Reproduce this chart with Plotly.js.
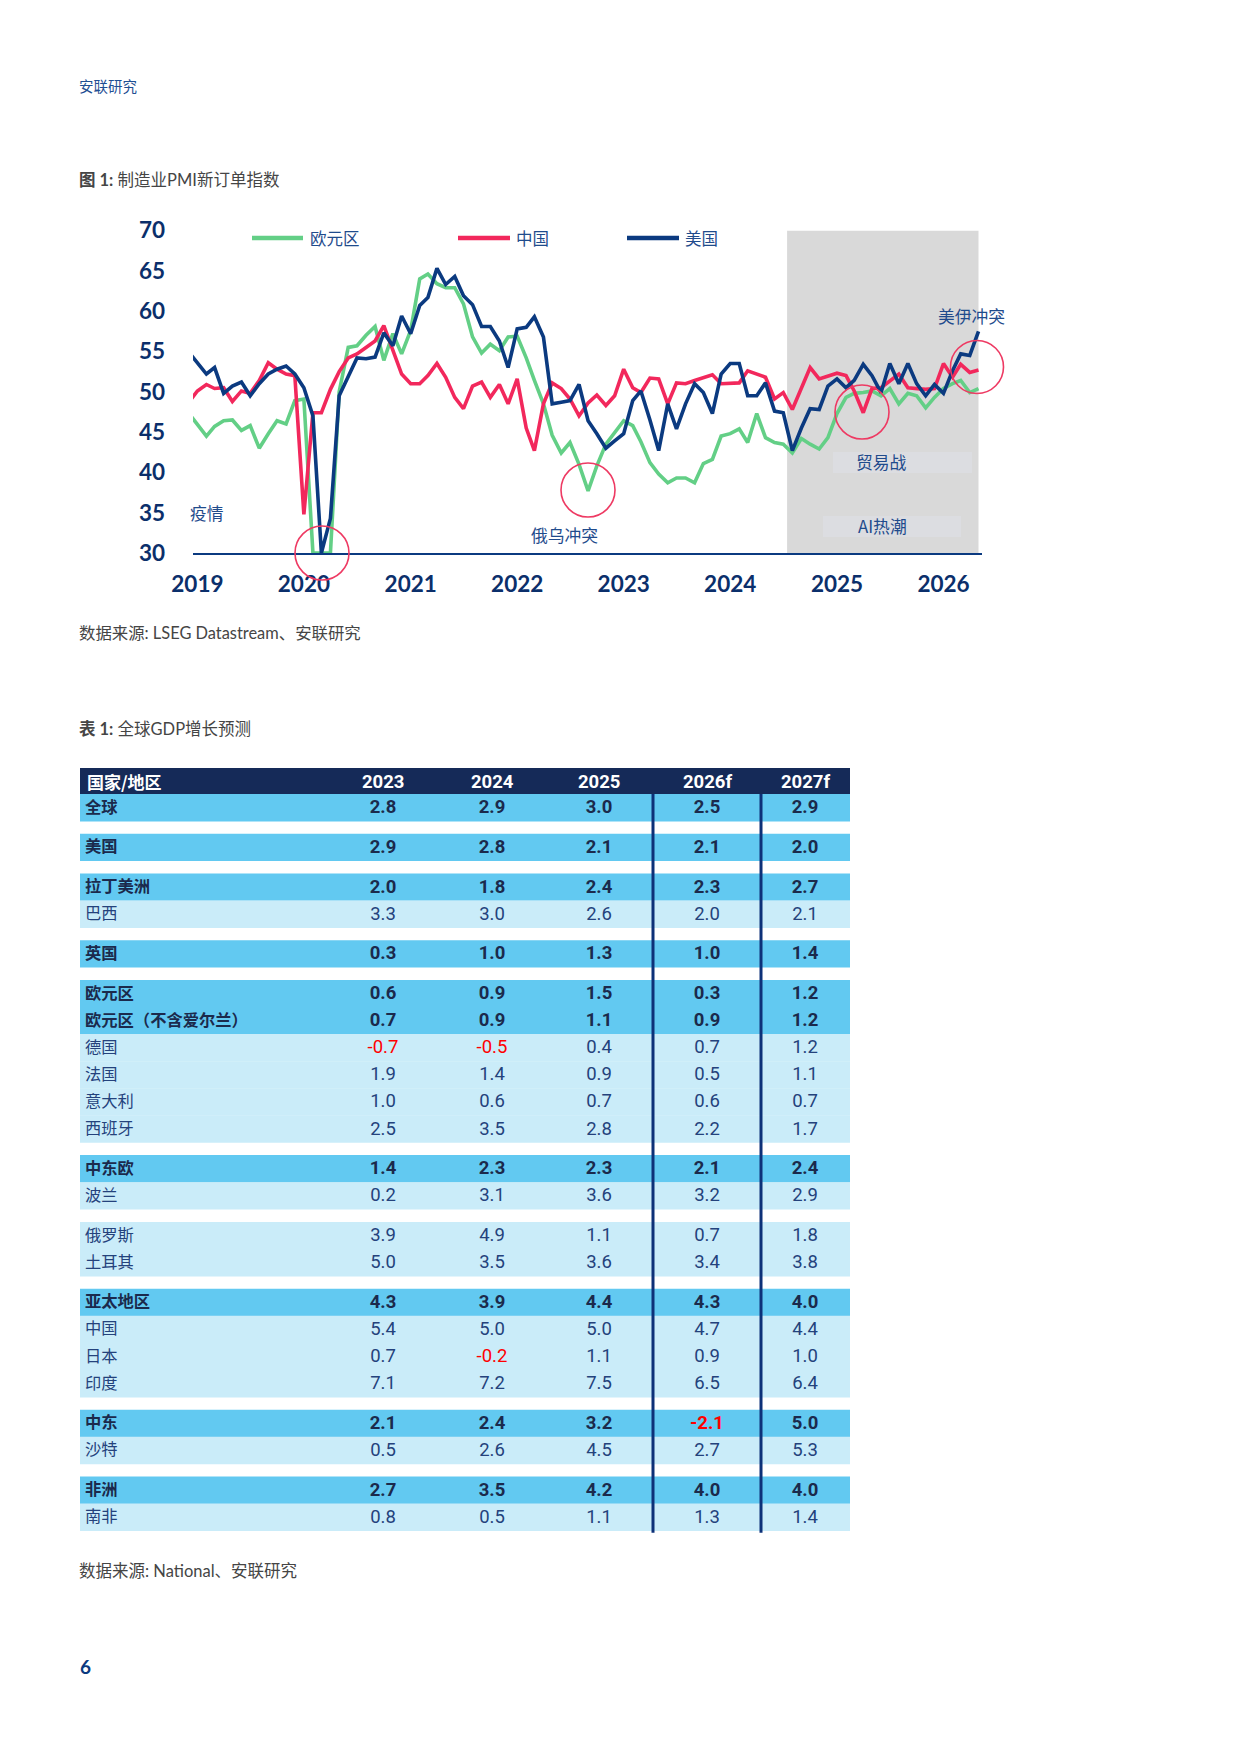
<!DOCTYPE html>
<html><head><meta charset="utf-8">
<script src="https://cdn.plot.ly/plotly-3.0.1.min.js"></script>
<style>html,body{margin:0;padding:0;background:#fff;}#page{width:1240px;height:1753px;}</style>
</head><body><div id="page"></div>
<script>
// ---------------- chart data (monthly, Dec 2018 – May 2026) ----------------
const firstMonth = [2018, 12];
const monthCount = 90;
const eurozone = [47.4,
 46.0,44.5,45.7,46.4,46.5,45.2,45.8,43.0,44.8,46.4,46.0,48.9,
 49.1,30.0,30.0,30.0,50.0,55.5,55.7,57.0,58.1,53.9,57.2,54.7,
 57.6,64.0,64.6,63.4,62.9,62.9,60.9,56.8,54.8,55.9,55.1,56.8,
 56.9,54.2,51.4,48.5,44.6,42.4,43.7,41.0,37.7,40.8,43.5,45.0,
 46.4,45.8,43.8,41.2,39.8,38.7,39.3,39.3,38.7,41.1,41.6,44.5,
 44.8,45.4,43.7,47.3,44.3,43.7,43.5,42.4,44.2,43.5,42.9,44.3,
 47.3,49.3,49.8,49.9,50.1,49.5,50.4,48.5,49.8,49.5,48.0,49.3,
 50.4,51.0,51.4,49.9,50.4];
const china = [48.6,
 50.1,50.9,50.4,50.5,48.8,50.1,49.8,51.4,53.6,52.8,52.2,52.0,
 34.8,47.4,47.4,50.3,52.5,54.2,54.7,55.5,56.3,58.2,55.3,52.2,
 51.0,51.0,52.0,53.5,51.8,49.3,47.9,50.7,51.2,49.3,50.9,48.5,
 51.6,45.5,42.7,48.5,51.1,50.4,49.1,47.0,48.6,49.6,48.3,49.5,
 52.8,50.5,49.9,51.7,51.6,48.5,51.1,51.0,51.4,51.8,52.1,51.0,
 51.1,51.1,52.6,52.2,51.8,49.1,49.9,47.8,50.5,53.0,51.6,52.0,
 52.3,52.0,50.1,47.4,50.4,50.5,51.4,52.2,50.5,50.4,50.3,50.4,
 53.5,51.8,53.4,52.4,52.7];
const usa = [55.0,
 53.6,52.2,53.0,49.8,50.7,51.2,49.5,51.0,52.2,52.8,53.2,52.2,
 50.5,47.0,30.0,34.3,49.5,51.8,54.2,54.1,54.3,57.3,55.7,59.4,
 57.2,60.7,61.7,65.3,63.3,64.3,61.9,60.8,58.1,58.1,56.3,53.0,
 57.8,58.0,59.3,56.8,48.5,48.7,48.9,50.9,46.4,44.8,43.0,43.9,
 44.8,48.9,50.1,46.5,42.7,48.5,45.4,48.5,51.0,49.9,47.3,52.2,
 53.5,53.5,49.5,49.5,51.1,47.6,47.4,42.7,45.5,47.9,47.8,50.7,
 51.6,50.5,51.4,53.4,52.0,49.9,53.5,51.0,53.5,51.0,49.5,50.9,
 49.8,52.6,54.7,54.5,57.5];
const seriesNames = ['欧元区','中国','美国'];
const yTicks = [30,35,40,45,50,55,60,65,70];

// ---------------- table data ----------------
const colHeaders = ['2023','2024','2025','2026f','2027f'];
const rowLabels = ['全球','美国','拉丁美洲','巴西','英国','欧元区','欧元区（不含爱尔兰）','德国','法国','意大利','西班牙','中东欧','波兰','俄罗斯','土耳其','亚太地区','中国','日本','印度','中东','沙特','非洲','南非'];
const rowBold   = [1,1,1,0,1,1,1,0,0,0,0,1,0,0,0,1,0,0,0,1,0,1,0];
const gapAfter  = [0,1,3,4,10,12,14,18,20];
const g2023  = [2.8,2.9,2.0,3.3,0.3,0.6,0.7,-0.7,1.9,1.0,2.5,1.4,0.2,3.9,5.0,4.3,5.4,0.7,7.1,2.1,0.5,2.7,0.8];
const g2024  = [2.9,2.8,1.8,3.0,1.0,0.9,0.9,-0.5,1.4,0.6,3.5,2.3,3.1,4.9,3.5,3.9,5.0,-0.2,7.2,2.4,2.6,3.5,0.5];
const g2025  = [3.0,2.1,2.4,2.6,1.3,1.5,1.1,0.4,0.9,0.7,2.8,2.3,3.6,1.1,3.6,4.4,5.0,1.1,7.5,3.2,4.5,4.2,1.1];
const g2026f = [2.5,2.1,2.3,2.0,1.0,0.3,0.9,0.7,0.5,0.6,2.2,2.1,3.2,0.7,3.4,4.3,4.7,0.9,6.5,-2.1,2.7,4.0,1.3];
const g2027f = [2.9,2.0,2.7,2.1,1.4,1.2,1.2,1.2,1.1,0.7,1.7,2.4,2.9,1.8,3.8,4.0,4.4,1.0,6.4,5.0,5.3,4.0,1.4];
const tableCols = [g2023,g2024,g2025,g2026f,g2027f];

// ---------------- layout constants ----------------
const W = 1240, H = 1753;
const NAVY = '#0b3a80', RED = '#f2285c', GREEN = '#63cf86';
const TXT = '#1f4b8c';
const CJK = 'Noto Sans CJK SC';
const NUM = 'Lato, Noto Sans CJK SC';
const TNUM = 'Liberation Sans Narrow, Roboto, Noto Sans CJK SC';

const months = [];
for (let i = 0; i < monthCount; i++) {
  const d = new Date(Date.UTC(firstMonth[0], firstMonth[1]-1+i, 1));
  months.push(d.toISOString().slice(0,10));
}

// chart plot-area in page pixels
const cL = 193, cR = 982, cT = 230.5, cB = 553;

const traces = [];
const cols = [GREEN, RED, NAVY];
[eurozone, china, usa].forEach((s, k) => {
  traces.push({x: months, y: s, type: 'scatter', mode: 'lines', name: seriesNames[k],
    line: {color: cols[k], width: 3.6, shape: 'linear'}, showlegend: false,
    xaxis: 'x', yaxis: 'y', hoverinfo: 'skip'});
});

// table geometry
const tX0 = 80, tX1 = 850, hdrTop = 768, hdrBot = 794, rowH = 27.1, gapH = 12.6;
const colX = [383, 492, 599, 707, 805];
const rowTop = [];
{ let y = hdrBot; for (let i = 0; i < rowLabels.length; i++) { rowTop.push(y); y += rowH; if (gapAfter.includes(i)) y += gapH; } }
const rowMid = rowTop.map(t => t + rowH/2 + 1);
const tableBottom = rowTop[rowTop.length-1] + rowH;

const shapes = [];
shapes.push({type:'rect', xref:'x', yref:'y', x0:'2024-07-14', x1:'2026-05-01', y0:30, y1:70,
  fillcolor:'#d9d9d9', line:{width:0}, layer:'below'});
shapes.push({type:'rect', xref:'x2', yref:'y2', x0:833, x1:972, y0:452, y1:473, fillcolor:'#dcdde1', line:{width:0}, layer:'below'});
shapes.push({type:'rect', xref:'x2', yref:'y2', x0:823, x1:961, y0:516, y1:537, fillcolor:'#dcdde1', line:{width:0}, layer:'below'});

shapes.push({type:'rect', xref:'x2', yref:'y2', x0:tX0, x1:tX1, y0:hdrTop, y1:hdrBot, fillcolor:'#152a58', line:{width:0}, layer:'below'});
rowLabels.forEach((_, i) => {
  shapes.push({type:'rect', xref:'x2', yref:'y2', x0:tX0, x1:tX1, y0:rowTop[i], y1:rowTop[i]+rowH+0.3,
    fillcolor: rowBold[i] ? '#62c9f1' : '#caecf9', line:{width:0}, layer:'below'});
});
[653, 761].forEach(x => shapes.push({type:'line', xref:'x2', yref:'y2', x0:x, x1:x, y0:hdrBot, y1:tableBottom+2,
  line:{color:'#0d3178', width:3}}));

[[322,553,27],[588,490,27],[862,412,27],[977,367,26.5]].forEach(c => shapes.push({type:'circle', xref:'x2', yref:'y2',
  x0:c[0]-c[2], x1:c[0]+c[2], y0:c[1]-c[2], y1:c[1]+c[2], line:{color:'#ee3a63', width:1.6}, layer:'above'}));

const legend = [[252,303,308],[458,510,514],[627,679,683]];
legend.forEach((l, k) => shapes.push({type:'line', xref:'x2', yref:'y2', x0:l[0], x1:l[1], y0:238, y1:238,
  line:{color:cols[k], width:4.5}}));

const ann = [];
function txt(x, y, text, opt) {
  ann.push(Object.assign({xref:'x2', yref:'y2', x:x, y:y, text:text, showarrow:false, xanchor:'left', yanchor:'middle',
    font:{family:CJK, size:16.8, color:TXT}}, opt || {}));
}
legend.forEach((l, k) => txt(l[2], 238, seriesNames[k], {font:{family:CJK, size:16.5, color:TXT}}));
txt(77, 85, '安联研究', {font:{family:CJK, size:14.5, color:'#1f4f93'}});
txt(77, 180, '<b>图 1:</b> 制造业PMI新订单指数', {font:{family:NUM, size:16.5, color:'#454545'}});
txt(77, 632, '数据来源: LSEG Datastream、安联研究', {font:{family:NUM, size:16.4, color:'#454545'}});
txt(77, 729, '<b>表 1:</b> 全球GDP增长预测', {font:{family:NUM, size:16.5, color:'#454545'}});
txt(77, 1571, '数据来源: National、安联研究', {font:{family:NUM, size:16.5, color:'#454545'}});
txt(78, 1666, '<b>6</b>', {font:{family:NUM, size:19, color:'#0b3a80'}});
txt(188, 513, '疫情');
txt(529, 535, '俄乌冲突');
txt(881, 462, '贸易战', {xanchor:'center'});
txt(882, 526, 'AI热潮', {xanchor:'center'});
txt(936, 316, '美伊冲突');

txt(85, 781, '<b>国家/地区</b>', {font:{family:CJK, size:17, color:'#ffffff'}});
colHeaders.forEach((h, j) => txt(colX[j], 782, '<b>'+h+'</b>', {xanchor:'center', font:{family:TNUM, size:18.5, color:'#ffffff'}}));

function cellTrace(bold) {
  const xs = [], ys = [], ts = [], cs = [];
  rowLabels.forEach((lab, i) => {
    if (!!rowBold[i] !== bold) return;
    tableCols.forEach((col, j) => {
      xs.push(colX[j]); ys.push(rowMid[i]); ts.push(col[i].toFixed(1));
      cs.push(col[i] < 0 ? '#ff0000' : (bold ? '#1b2a4c' : '#24427c'));
    });
  });
  return {x: xs, y: ys, text: ts, mode: 'text', type: 'scatter', xaxis: 'x2', yaxis: 'y2', showlegend: false,
    hoverinfo: 'skip', textposition: 'middle center', cliponaxis: false,
    textfont: {family: TNUM, size: 18.5, color: cs, weight: bold ? 'bold' : 'normal'}};
}
function labelTrace(bold) {
  const xs = [], ys = [], ts = [];
  rowLabels.forEach((lab, i) => { if (!!rowBold[i] === bold) { xs.push(85); ys.push(rowMid[i]); ts.push(lab); } });
  return {x: xs, y: ys, text: ts, mode: 'text', type: 'scatter', xaxis: 'x2', yaxis: 'y2', showlegend: false,
    hoverinfo: 'skip', textposition: 'middle right', cliponaxis: false,
    textfont: {family: CJK, size: 16.3, color: bold ? '#1b2a4c' : '#24427c', weight: bold ? 'bold' : 'normal'}};
}
traces.push(cellTrace(true), cellTrace(false), labelTrace(true), labelTrace(false));

const layout = {
  width: W, height: H, margin: {l:0, r:0, t:0, b:0},
  paper_bgcolor: '#ffffff', plot_bgcolor: 'rgba(0,0,0,0)', showlegend: false,
  xaxis: {domain: [cL/W, cR/W], anchor: 'y', type: 'date', range: ['2018-12-17', '2026-05-13'],
    tick0: '2019-01-01', dtick: 'M12', tickformat: '%Y', showgrid: false, zeroline: false,
    showline: true, linecolor: '#0b3a80', linewidth: 2.2, ticks: '', ticklabelstandoff: 10,
    tickfont: {family: NUM, size: 22.5, color: '#0b2f6b', weight: 'bold'}, fixedrange: true},
  yaxis: {domain: [1-cB/H, 1-cT/H], anchor: 'x', range: [30, 70], tickvals: yTicks,
    showgrid: false, zeroline: false, showline: false, ticks: '', ticklabelstandoff: 27,
    tickfont: {family: NUM, size: 22.5, color: '#0b2f6b', weight: 'bold'}, fixedrange: true},
  xaxis2: {domain: [0,1], anchor: 'y2', range: [0, W], visible: false, fixedrange: true},
  yaxis2: {domain: [0,1], anchor: 'x2', range: [H, 0], visible: false, fixedrange: true},
  shapes: shapes, annotations: ann
};
Plotly.newPlot('page', traces, layout, {staticPlot: true, displayModeBar: false});
</script></body></html>
